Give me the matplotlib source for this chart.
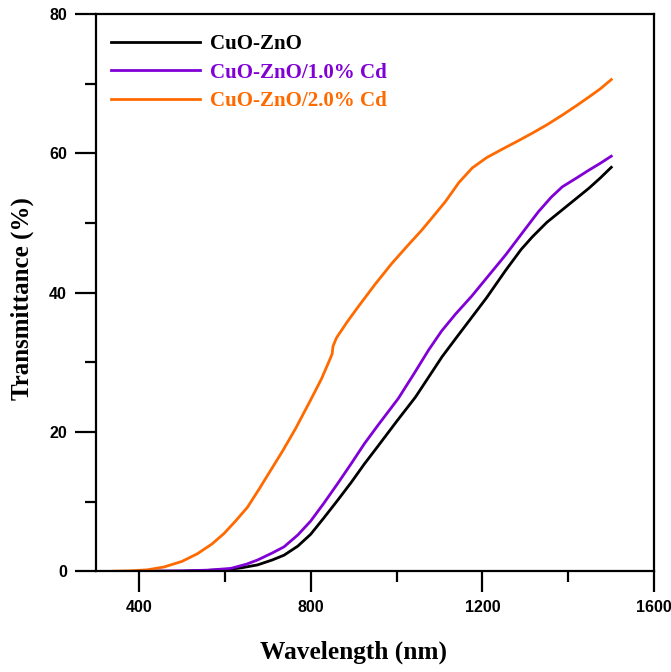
import matplotlib
matplotlib.use("Agg")
import matplotlib.pyplot as plt
from matplotlib.ticker import MultipleLocator

# Optical transmittance spectra (wavelength in nm, transmittance in %)
wl_cuo_zno = [400, 500, 600, 640, 676, 710, 738, 770, 800, 830, 863, 895, 925, 956, 1000,
              1044, 1075, 1106, 1140, 1172, 1210, 1254, 1290, 1316, 1350, 1386, 1420, 1448,
              1475, 1500]
t_cuo_zno = [0.0, 0.0, 0.2, 0.5, 0.9, 1.6, 2.3, 3.6, 5.3, 7.6, 10.2, 12.8, 15.4, 17.9, 21.5,
             25.0, 27.9, 30.8, 33.6, 36.2, 39.3, 43.2, 46.2, 48.0, 50.1, 51.9, 53.6, 55.0,
             56.5, 58.0]

wl_cd1 = [400, 500, 560, 614, 650, 676, 710, 738, 770, 800, 830, 863, 895, 925, 956, 1004,
          1040, 1075, 1105, 1137, 1175, 1215, 1255, 1293, 1330, 1360, 1386, 1420, 1448,
          1475, 1500]
t_cd1 = [0.0, 0.05, 0.15, 0.4, 1.0, 1.6, 2.6, 3.5, 5.2, 7.2, 9.7, 12.6, 15.5, 18.3, 20.9, 24.8,
         28.3, 31.8, 34.5, 36.9, 39.5, 42.5, 45.5, 48.6, 51.6, 53.7, 55.2, 56.5, 57.6,
         58.6, 59.6]

wl_cd2 = [340, 380, 420, 458, 500, 536, 570, 598, 625, 653, 680, 707, 735, 765, 800, 825,
          846, 850, 852, 860, 885, 911, 950, 989, 1025, 1059, 1090, 1114, 1145, 1176, 1210,
          1246, 1280, 1316, 1350, 1386, 1420, 1448, 1475, 1500]
t_cd2 = [0.0, 0.05, 0.2, 0.6, 1.4, 2.5, 3.9, 5.4, 7.2, 9.2, 11.8, 14.5, 17.3, 20.5, 24.6, 27.6,
         30.6, 31.2, 32.3, 33.5, 35.8, 38.0, 41.2, 44.2, 46.7, 49.0, 51.3, 53.1, 55.8, 57.9,
         59.4, 60.6, 61.7, 62.9, 64.1, 65.5, 66.9, 68.1, 69.3, 70.6]

labels = ["CuO-ZnO", "CuO-ZnO/1.0% Cd", "CuO-ZnO/2.0% Cd"]
colors = ["#000000", "#8000D6", "#FF6A00"]

fig = plt.figure(figsize=(6.71, 6.72), dpi=100)
ax = fig.add_axes([0.143, 0.150, 0.832, 0.829])

series = [(wl_cuo_zno, t_cuo_zno), (wl_cd1, t_cd1), (wl_cd2, t_cd2)]
for (x, y), lab, c in zip(series, labels, colors):
    ax.plot(x, y, color=c, lw=2.0, label=lab, solid_joinstyle="round")

ax.set_xlim(300, 1600)
ax.set_ylim(0, 80)
ax.set_xticks([400, 800, 1200, 1600])
ax.xaxis.set_minor_locator(MultipleLocator(200))
ax.yaxis.set_major_locator(MultipleLocator(20))
ax.yaxis.set_minor_locator(MultipleLocator(10))

for s in ax.spines.values():
    s.set_linewidth(1.6)
ax.tick_params(which="major", direction="out", length=15, width=1.6,
               labelsize=11.5, pad=6)
ax.tick_params(which="minor", direction="out", length=8, width=1.6)
for lbl in ax.get_xticklabels() + ax.get_yticklabels():
    lbl.set_fontweight("bold")
    lbl.set_family("Liberation Sans")

serif = "Liberation Serif"
ax.set_xlabel("Wavelength (nm)", fontsize=18.3, fontweight="bold", family=serif)
ax.set_ylabel("Transmittance (%)", fontsize=18, fontweight="bold", family=serif)
ax.xaxis.set_label_coords(0.4606, -0.124)
ax.yaxis.set_label_coords(-0.111, 0.49)

leg = ax.legend(loc="upper left", bbox_to_anchor=(0.027, 0.964), frameon=False,
                borderpad=0, borderaxespad=0, handlelength=4.25, handletextpad=0.48,
                labelspacing=0.4,
                prop={"family": serif, "weight": "bold", "size": 15.1})
for txt, c in zip(leg.get_texts(), colors):
    txt.set_color(c)

fig.savefig("out.png", dpi=100)
